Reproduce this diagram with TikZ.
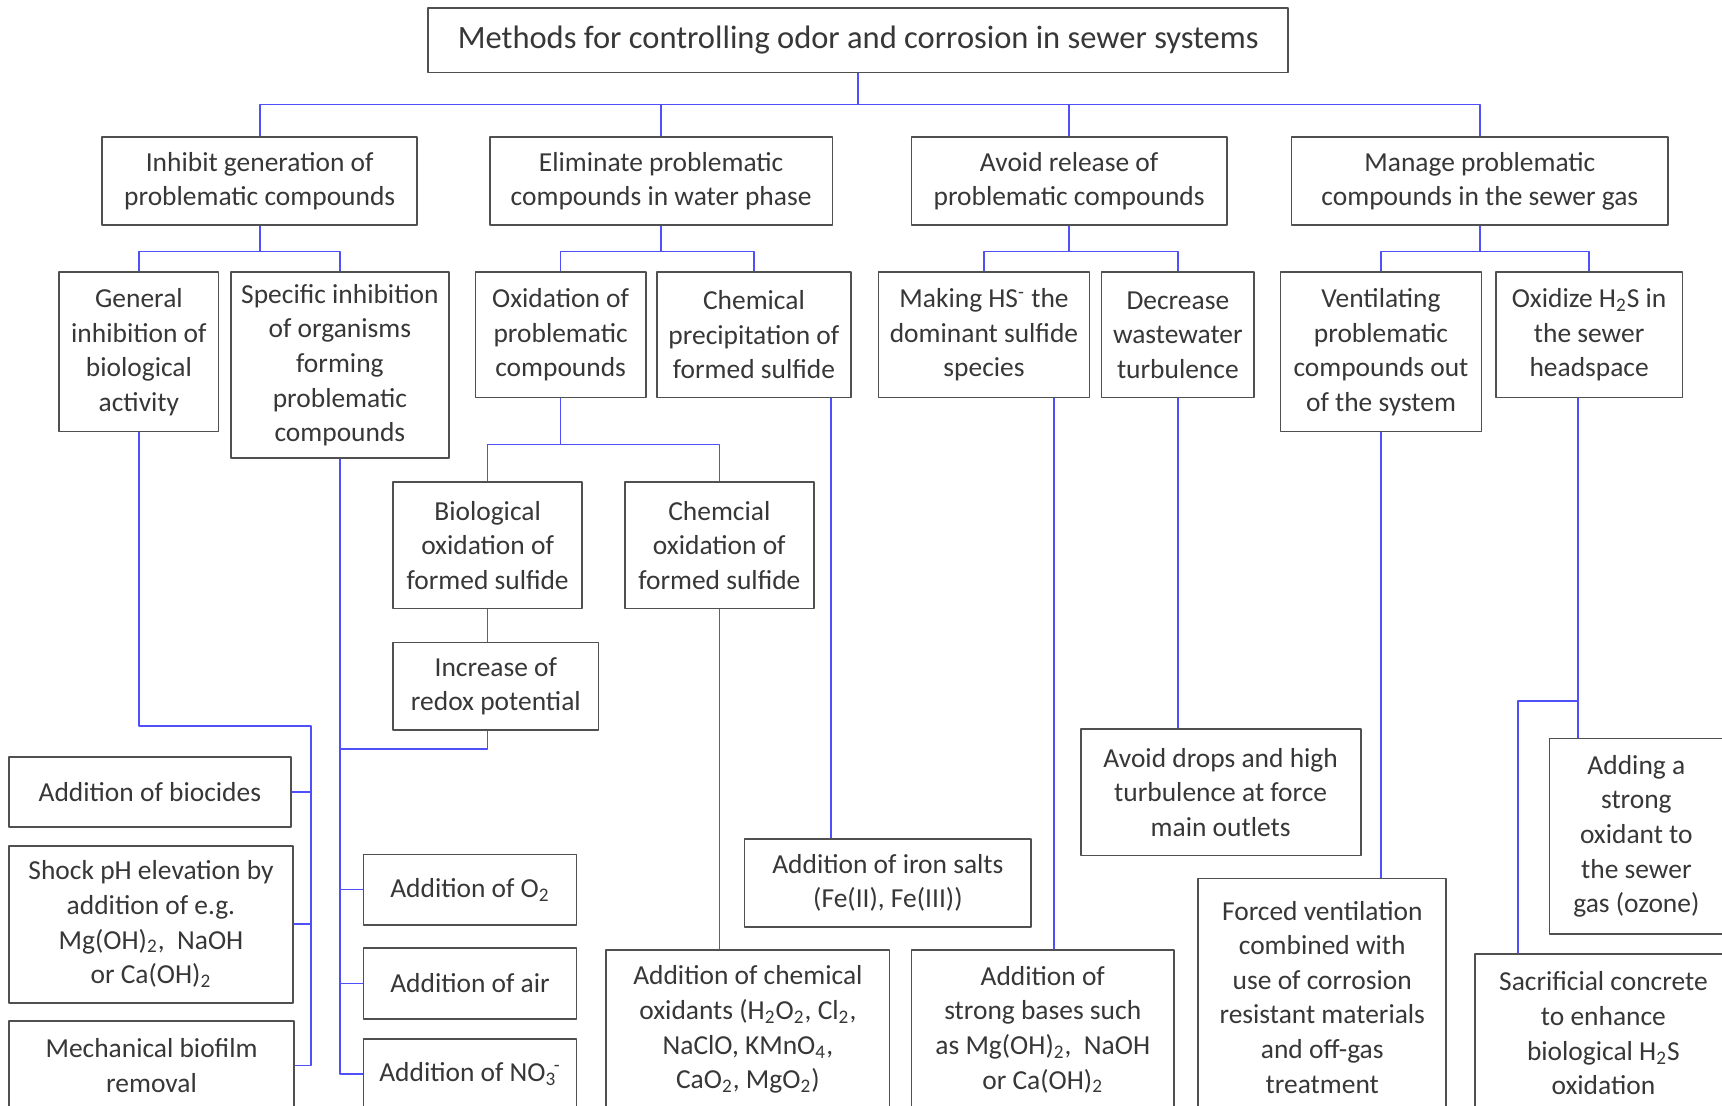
\documentclass[tikz,border=0pt]{standalone}
\usepackage{fontspec}
\setmainfont{Carlito}
\definecolor{linkblue}{RGB}{80,80,250}
\definecolor{boxgray}{RGB}{80,80,80}
\definecolor{textgray}{RGB}{55,55,55}
\newcommand{\chsub}[1]{\textsubscript{#1}}
\newcommand{\chsup}[1]{\textsuperscript{#1}}

\begin{document}
\begin{tikzpicture}[
    x=0.5pt,
    y=-0.5pt,
    box/.style={draw=boxgray, line width=0.8pt, align=center, inner sep=0pt,
        text=textgray, font=\fontsize{12.5}{15.75}\selectfont},
    link/.style={draw=linkblue, line width=0.7pt},
    line join=round
]
    % canvas
    \useasboundingbox (0,0) rectangle (1568,1007);
    \clip (0,0) rectangle (1568,1007);

    % root
    \node[box, font=\fontsize{14.8}{18}\selectfont, minimum width=391.5pt, minimum height=29.5pt] (methods) at (781.5,36.5) {Methods for controlling odor and corrosion in sewer systems};

    % main strategies
    \node[box, minimum width=143.5pt, minimum height=40pt] (inhibit) at (236.5,165) {Inhibit generation of\\problematic compounds};
    \node[box, minimum width=156pt, minimum height=40pt] (eliminate) at (602,165) {Eliminate problematic\\compounds in water phase};
    \node[box, minimum width=143.5pt, minimum height=40pt] (avoid) at (973.5,165) {Avoid release of\\problematic compounds};
    \node[box, minimum width=171.5pt, minimum height=40pt] (manage) at (1347.5,165) {Manage problematic\\compounds in the sewer gas};

    % sub strategies
    \node[box, minimum width=72.5pt, minimum height=72.5pt] (general) at (126.5,320.5) {General\\inhibition of\\biological\\activity};
    \node[box, minimum width=99.5pt, minimum height=84.5pt] (specific) at (309.5,332.5) {Specific inhibition\\of organisms\\forming\\problematic\\compounds};
    \node[box, minimum width=77.5pt, minimum height=57pt] (oxidation) at (510.5,305) {Oxidation of\\problematic\\compounds};
    \node[box, minimum width=88.5pt, minimum height=57pt] (precip) at (686.5,305) {Chemical\\precipitation of\\formed sulfide};
    \node[box, minimum width=96pt, minimum height=57pt] (making) at (896,305) {Making HS\chsup{-} the\\dominant sulfide\\species};
    \node[box, minimum width=69.5pt, minimum height=57pt] (decrease) at (1072.5,305) {Decrease\\wastewater\\turbulence};
    \node[box, minimum width=91.5pt, minimum height=72.5pt] (ventilate) at (1257.5,320.5) {Ventilating\\problematic\\compounds out\\of the system};
    \node[box, minimum width=85pt, minimum height=57pt] (oxidize) at (1447,305) {Oxidize H\chsub{2}S in\\the sewer\\headspace};

    % oxidation routes
    \node[box, minimum width=86pt, minimum height=57.5pt] (bioox) at (444,496.5) {Biological\\oxidation of\\formed sulfide};
    \node[box, minimum width=86pt, minimum height=57.5pt] (chemox) at (655,496.5) {Chemcial\\oxidation of\\formed sulfide};
    \node[box, minimum width=93.5pt, minimum height=40pt] (redox) at (451.5,625) {Increase of\\redox potential};

    % measures
    \node[box, minimum width=128.5pt, minimum height=32pt] (biocides) at (136.5,721) {Addition of biocides};
    \node[box, minimum width=129.5pt, minimum height=71.5pt] (shockph) at (137.5,841.5) {Shock pH elevation by\\addition of e.g.\\Mg(OH)\chsub{2}, \ NaOH\\or Ca(OH)\chsub{2}};
    \node[box, minimum width=130pt, minimum height=40pt] (mechanical) at (138,970) {Mechanical biofilm\\removal};
    \node[box, minimum width=97pt, minimum height=32pt] (addoxygen) at (428,810) {Addition of O\chsub{2}};
    \node[box, minimum width=97pt, minimum height=32.5pt] (addair) at (428,895.5) {Addition of air};
    \node[box, minimum width=97pt, minimum height=32pt] (addnitrate) at (428,978) {Addition of NO\chsub{3}\kern-0.1em\chsup{-}};
    \node[box, minimum width=129pt, minimum height=72.5pt] (addchem) at (681,937.5) {Addition of chemical\\oxidants (H\chsub{2}O\chsub{2}, Cl\chsub{2},\\NaClO, KMnO\chsub{4},\\CaO\chsub{2}, MgO\chsub{2})};
    \node[box, minimum width=130.5pt, minimum height=40pt] (iron) at (808.5,804) {Addition of iron salts\\(Fe(II), Fe(III))};
    \node[box, minimum width=119.5pt, minimum height=72.5pt] (bases) at (949.5,937.5) {Addition of\\strong bases such\\as Mg(OH)\chsub{2}, \ NaOH\\or Ca(OH)\chsub{2}};
    \node[box, minimum width=127.5pt, minimum height=57.5pt] (drops) at (1111.5,721.5) {Avoid drops and high\\turbulence at force\\main outlets};
    \node[box, minimum width=113pt, minimum height=108pt] (forced) at (1204,908) {Forced ventilation\\combined with\\use of corrosion\\resistant materials\\and off-gas\\treatment};
    \node[box, minimum width=79pt, minimum height=89pt] (adding) at (1490,761.5) {Adding a\\strong\\oxidant to\\the sewer\\gas (ozone)};
    \node[box, minimum width=117pt, minimum height=72pt] (sacrificial) at (1460,941) {Sacrificial concrete\\to enhance\\biological H\chsub{2}S\\oxidation};

    % root bus
    \coordinate (bus1) at (781.5,95);
    \draw[link] (methods.south) -- (bus1);
    \foreach \n in {inhibit,eliminate,avoid,manage}
        \draw[link] (bus1) -| (\n.north);

    % strategy buses
    \foreach \p/\a/\b in {inhibit/general/specific, eliminate/oxidation/precip,
                          avoid/making/decrease, manage/ventilate/oxidize}{
        \draw[link] (\p.south) -- ++(0,23) coordinate (\p-bus);
        \draw[link] (\p-bus) -| (\a.north);
        \draw[link] (\p-bus) -| (\b.north);
    }

    % oxidation bus
    \draw[link] (oxidation.south) -- ++(0,42) coordinate (oxbus);
    \draw[link] (oxbus) -| (bioox.north);
    \draw[link] (oxbus) -| (chemox.north);
    \draw[link] (bioox.south) -- (bioox.south |- redox.north);
    \draw[link] (redox.south -| bioox.south) -- ++(0,16) -| (specific.south);

    % specific inhibition trunk
    \draw[link] (specific.south) |- (addnitrate.west);
    \draw[link] (specific.south |- addoxygen.west) -- (addoxygen.west);
    \draw[link] (specific.south |- addair.west) -- (addair.west);

    % general inhibition trunk
    \coordinate (gtrunk) at (283,661);
    \draw[link] (general.south) |- (gtrunk) |- (mechanical.east);
    \draw[link] (gtrunk |- biocides.east) -- (biocides.east);
    \draw[link] (gtrunk |- shockph.east) -- (shockph.east);

    % single drops
    \coordinate (precipout) at ([xshift=-9.5pt]precip.south east);
    \coordinate (makingout) at ([xshift=-16.5pt]making.south east);
    \coordinate (oxidout) at ([xshift=-5pt]oxidize.south);
    \coordinate (sacrin) at ([xshift=20pt]sacrificial.north west);
    \draw[link] (chemox.south) -- (chemox.south |- addchem.north);
    \draw[link] (precipout) -- (precipout |- iron.north);
    \draw[link] (makingout) -- (makingout |- bases.north);
    \draw[link] (decrease.south) -- (decrease.south |- drops.north);
    \draw[link] (ventilate.south) -- (ventilate.south |- forced.north);
    \draw[link] (oxidout) -- (oxidout |- adding.north);
    \draw[link] (oxidout) ++(0,275.5) -| (sacrin);

\end{tikzpicture}
\end{document}
